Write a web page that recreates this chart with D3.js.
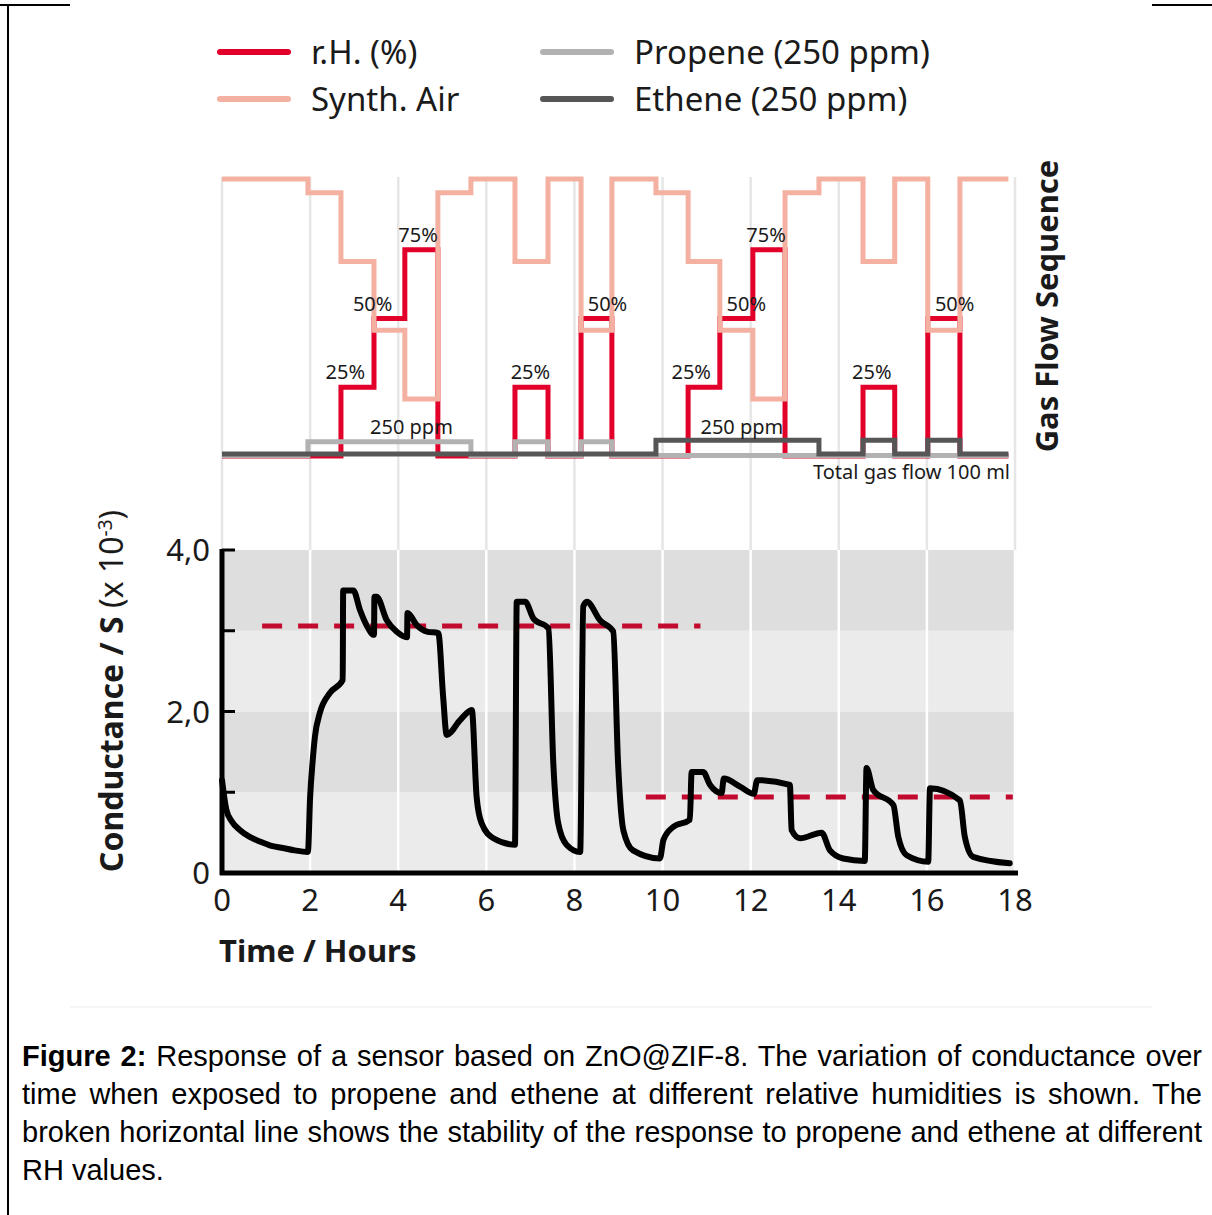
<!DOCTYPE html>
<html lang="en">
<head>
<meta charset="UTF-8">
<script src="https://d3js.org/d3.v7.min.js"></script>
<title>Gas flow sequence and conductance</title>
<style>
    body { margin: 0; background: #fff; }
    #wrap { position: relative; width: 1212px; height: 1215px; overflow: hidden; }
    svg { position: absolute; left: 0; top: 0; }
    .cap {
        position: absolute;
        left: 22px;
        width: 1180px;
        font-family: "Liberation Sans", Arial, sans-serif;
        font-size: 29px;
        color: #000;
        white-space: nowrap;
    }
    .cap.just { text-align: justify; text-align-last: justify; white-space: normal; }
</style>
</head>
<body>
<div id="wrap"></div>
<script>
    // gas flow sequence (step times in hours, levels in % of total flow)
    var stepTimes   = [0, 1.95, 2.70, 3.45, 4.15, 4.90, 5.65, 6.65, 7.40, 8.15, 8.85, 9.85, 10.58, 11.30, 12.05, 12.78, 13.55, 14.55, 15.27, 16.02, 16.75, 17.85];
    var synthAir    = [100, 95, 70, 45, 20, 95, 100, 70, 100, 45, 100, 95, 70, 45, 20, 95, 100, 70, 100, 45, 100, 100];
    var humidity    = [0, 0, 25, 50, 75, 0, 0, 25, 0, 50, 0, 0, 25, 50, 75, 0, 0, 25, 0, 50, 0, 0];
    var propene     = [0, 5, 5, 5, 5, 5, 0, 5, 0, 5, 0, 0, 0, 0, 0, 0, 0, 0, 0, 0, 0, 0];
    var ethene      = [0, 0, 0, 0, 0, 0, 0, 0, 0, 0, 0, 5, 5, 5, 5, 5, 0, 5, 0, 5, 0, 0];

    // labels above the steps: [hour, level, text]
    var stepLabels = [
        [2.80, 25, "25%"], [3.42, 50, "50%"], [4.45, 75, "75%"], [4.30, 5, "250 ppm"],
        [7.0, 25, "25%"], [8.75, 50, "50%"], [10.65, 25, "25%"], [11.90, 50, "50%"],
        [12.35, 75, "75%"], [11.8, 5, "250 ppm"], [14.75, 25, "25%"], [16.63, 50, "50%"]
    ];

    // conductance (x 10^-3 S) vs time (h)
    var timeH = [0, 0.1, 0.22, 0.41, 0.62, 0.86, 1.1, 1.39, 1.65, 1.95, 2.0, 2.06, 2.11, 2.22, 2.45, 2.74, 2.75, 2.98,
        3.13, 3.28, 3.45, 3.46, 3.51, 3.74, 3.96, 4.20, 4.21, 4.42, 4.65, 4.91, 5.02, 5.10,
        5.40, 5.67, 5.78, 5.89, 6.16, 6.65, 6.69, 6.88, 7.07, 7.41, 7.52, 7.63, 7.82, 8.13,
        8.20, 8.28, 8.58, 8.88, 8.99, 9.11, 9.33, 9.94, 10.02, 10.24, 10.62, 10.66, 10.92,
        11.08, 11.34, 11.39, 11.76, 12.07, 12.15, 12.89, 12.93, 13.12, 13.61, 13.80, 14.10,
        14.59, 14.63, 14.78, 15.24, 15.35, 15.54, 16.03, 16.07, 16.75, 16.86, 17.05, 17.88];
    var conductance = [1.15, 0.78, 0.64, 0.53, 0.45, 0.39, 0.34, 0.31, 0.28, 0.26, 0.94, 1.40, 1.69, 1.98, 2.23, 2.39, 3.50, 3.50,
        3.26, 3.07, 2.95, 3.42, 3.42, 3.13, 2.99, 2.92, 3.22, 3.07, 2.99, 2.97, 2.18, 1.71,
        1.89, 2.02, 0.94, 0.62, 0.43, 0.35, 3.36, 3.36, 3.15, 3.03, 1.36, 0.62, 0.35, 0.26,
        3.30, 3.36, 3.13, 2.99, 1.36, 0.53, 0.28, 0.18, 0.41, 0.57, 0.66, 1.25, 1.25,
        1.09, 0.99, 1.17, 1.07, 0.98, 1.15, 1.09, 0.53, 0.43, 0.50, 0.28, 0.18,
        0.15, 1.30, 1.03, 0.84, 0.45, 0.22, 0.14, 1.05, 0.90, 0.45, 0.20, 0.12];

    // broken horizontal lines: [start h, end h, level]
    var stabilityLines = [[0.91, 10.86, 3.06], [9.62, 17.95, 0.94]];

    var xTicks = [0, 2, 4, 6, 8, 10, 12, 14, 16, 18];
    var yTicks = [0, 1, 2, 3, 4];
    var yTickLabels = {0: "0", 2: "2,0", 4: "4,0"};

    var legendItems = [
        {name: "r.H. (%)", color: "#e2002a", col: 0, row: 0},
        {name: "Synth. Air", color: "#f4b1a2", col: 0, row: 1},
        {name: "Propene (250 ppm)", color: "#b2b2b2", col: 1, row: 0},
        {name: "Ethene (250 ppm)", color: "#565656", col: 1, row: 1}
    ];

    var width = 1212, height = 1215;
    var chartFont = "'Noto Sans', 'Open Sans', sans-serif";

    var svg = d3.select("#wrap").append("svg")
        .attr("width", width)
        .attr("height", height);

    var x = d3.scaleLinear().domain([0, 18]).range([222, 1015]);
    var y = d3.scaleLinear().domain([0, 4]).range([873, 550]);
    var flow = d3.scaleLinear().domain([0, 100]).range([454, 179]);

    // frame
    svg.append("line").attr("x1", 8).attr("x2", 8).attr("y1", 5).attr("y2", height)
        .attr("stroke", "#000").attr("stroke-width", 2);
    svg.append("line").attr("x1", 0).attr("x2", 70).attr("y1", 5).attr("y2", 5)
        .attr("stroke", "#000").attr("stroke-width", 2);
    svg.append("line").attr("x1", 1152).attr("x2", width).attr("y1", 5).attr("y2", 5)
        .attr("stroke", "#000").attr("stroke-width", 2);
    svg.append("line").attr("x1", 70).attr("x2", 1152).attr("y1", 1007).attr("y2", 1007)
        .attr("stroke", "#f2f2f2").attr("stroke-width", 1.5);

    // legend
    var leg = svg.append("g");
    legendItems.forEach(function (d) {
        var lx = 220 + d.col * 323, ly = 52 + d.row * 47;
        leg.append("line").attr("x1", lx).attr("x2", lx + 68).attr("y1", ly).attr("y2", ly)
            .attr("stroke", d.color).attr("stroke-width", 6).attr("stroke-linecap", "round");
        leg.append("text").attr("x", lx + 91).attr("y", ly + 12)
            .style("font-family", chartFont).style("font-size", "33px").attr("fill", "#1a1a1a")
            .text(d.name);
    });

    // vertical grid lines in the upper part
    svg.append("g").selectAll("line").data(xTicks).join("line")
        .attr("x1", d => x(d)).attr("x2", d => x(d))
        .attr("y1", 177).attr("y2", 550)
        .attr("stroke", "#e6e6e6").attr("stroke-width", 2.5);

    // gray bands in the conductance plot
    svg.append("g").selectAll("rect").data([0, 1, 2, 3]).join("rect")
        .attr("x", x(0)).attr("width", x(18) - x(0))
        .attr("y", d => y(d + 1)).attr("height", d => y(d) - y(d + 1))
        .attr("fill", d => d % 2 === 1 ? "#dedede" : "#ebebeb");

    svg.append("g").selectAll("line").data(xTicks).join("line")
        .attr("x1", d => x(d)).attr("x2", d => x(d))
        .attr("y1", 550).attr("y2", 873)
        .attr("stroke", "#fff").attr("stroke-width", 2.5);

    // gas flow sequence
    function stepPath(levels) {
        var pts = stepTimes.map((t, i) => [x(t), flow(levels[i])]);
        return d3.line().curve(d3.curveStepAfter)(pts);
    }
    var seq = svg.append("g").attr("fill", "none").attr("stroke-width", 5);
    seq.append("path").attr("d", stepPath(humidity)).attr("stroke", "#e2002a")
        .attr("transform", "translate(0,2)");
    seq.append("path").attr("d", stepPath(synthAir)).attr("stroke", "#f4b1a2");
    seq.append("path").attr("d", stepPath(propene)).attr("stroke", "#b2b2b2")
        .attr("transform", "translate(0,1.5)");
    seq.append("path").attr("d", stepPath(ethene)).attr("stroke", "#565656");

    svg.append("g").selectAll("text").data(stepLabels).join("text")
        .attr("x", d => x(d[0])).attr("y", d => flow(d[1]) - 6)
        .attr("text-anchor", "middle")
        .style("font-family", chartFont).style("font-size", "20px").attr("fill", "#1a1a1a")
        .text(d => d[2]);

    svg.append("text").attr("x", 1010).attr("y", 479).attr("text-anchor", "end")
        .style("font-family", chartFont).style("font-size", "20px").attr("fill", "#1a1a1a")
        .text("Total gas flow 100 ml");

    svg.append("text")
        .attr("transform", "translate(1058,306) rotate(-90)")
        .attr("text-anchor", "middle")
        .style("font-family", chartFont).style("font-size", "31px").style("font-weight", "bold")
        .attr("fill", "#1a1a1a")
        .text("Gas Flow Sequence");

    // stability lines
    svg.append("g").selectAll("line").data(stabilityLines).join("line")
        .attr("x1", d => x(d[0])).attr("x2", d => x(d[1]))
        .attr("y1", d => y(d[2])).attr("y2", d => y(d[2]))
        .attr("stroke", "#c20a2f").attr("stroke-width", 5)
        .attr("stroke-dasharray", "20,16");

    // conductance curve
    var line = d3.line().curve(d3.curveMonotoneX).x((d, i) => x(timeH[i])).y(d => y(d));
    svg.append("path").attr("d", line(conductance))
        .attr("fill", "none").attr("stroke", "#000").attr("stroke-width", 6)
        .attr("stroke-linejoin", "round").attr("stroke-linecap", "round");

    // axes
    var axisG = svg.append("g");
    axisG.append("line").attr("x1", x(0)).attr("x2", x(0)).attr("y1", y(4) - 1).attr("y2", y(0) + 2)
        .attr("stroke", "#000").attr("stroke-width", 5);
    axisG.append("line").attr("x1", x(0) - 2).attr("x2", x(18) + 3).attr("y1", y(0)).attr("y2", y(0))
        .attr("stroke", "#000").attr("stroke-width", 5);
    axisG.selectAll(".yt").data(yTicks).join("line")
        .attr("x1", x(0)).attr("x2", x(0) + 13)
        .attr("y1", d => y(d)).attr("y2", d => y(d))
        .attr("stroke", "#000").attr("stroke-width", 3);
    axisG.selectAll(".yl").data(yTicks.filter(d => yTickLabels[d])).join("text")
        .attr("x", 210).attr("y", d => y(d) + 11).attr("text-anchor", "end")
        .style("font-family", chartFont).style("font-size", "31px").attr("fill", "#1a1a1a")
        .text(d => yTickLabels[d]);
    axisG.selectAll(".xl").data(xTicks).join("text")
        .attr("x", d => x(d)).attr("y", 911).attr("text-anchor", "middle")
        .style("font-family", chartFont).style("font-size", "31px").attr("fill", "#1a1a1a")
        .text(d => d);

    svg.append("text").attr("x", 219).attr("y", 962)
        .style("font-family", chartFont).style("font-size", "31px").style("font-weight", "bold")
        .attr("fill", "#1a1a1a")
        .text("Time / Hours");

    var yTitle = svg.append("text")
        .attr("transform", "translate(123,691) rotate(-90)")
        .attr("text-anchor", "middle")
        .style("font-family", chartFont).style("font-size", "32px").attr("fill", "#1a1a1a");
    yTitle.append("tspan").style("font-weight", "bold").text("Conductance / S ");
    yTitle.append("tspan").text(" (x 10");
    yTitle.append("tspan").attr("dy", -11).style("font-size", "19px").text("-3");
    yTitle.append("tspan").attr("dy", 11).text(")");

    // caption
    var captionLines = [
        "<b>Figure 2:</b> Response of a sensor based on ZnO@ZIF-8. The variation of conductance over",
        "time when exposed to propene and ethene at different relative humidities is shown. The",
        "broken horizontal line shows the stability of the response to propene and ethene at different",
        "RH values."
    ];
    captionLines.forEach(function (t, i) {
        d3.select("#wrap").append("div")
            .attr("class", i < 3 ? "cap just" : "cap")
            .style("top", (1040 + i * 38) + "px")
            .html(t);
    });
</script>
</body>
</html>
